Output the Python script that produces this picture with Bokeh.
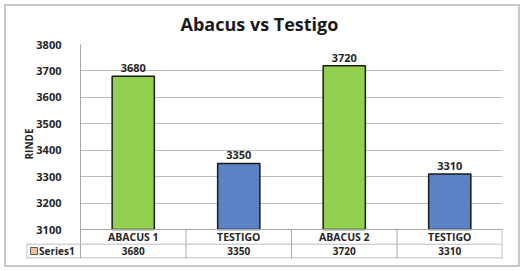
from bokeh.plotting import figure
from bokeh.layouts import column
from bokeh.models import ColumnDataSource, FixedTicker, Title
from bokeh.core.properties import value
from bokeh.embed import file_html
from bokeh.resources import INLINE

# ---- data ----
categories = ["ABACUS 1", "TESTIGO", "ABACUS 2", "TESTIGO"]
rinde = [3680, 3350, 3720, 3310]
bar_colors = ["#92d050", "#5b82c5", "#92d050", "#5b82c5"]
y_ticks = [3100, 3200, 3300, 3400, 3500, 3600, 3700, 3800]
series_name = "Series1"
title_text = "Abacus vs Testigo"
y_label = "RINDE"

W, H = 524, 271
FL, FR, FT = 80, 502, 44          # chart frame (pixels)
SPLIT = 243                       # top figure bottom edge
TB = 258                          # table bottom
Y_TOP, Y_BASE = 3800, 3100
PX_BASE = 229
upp = (Y_TOP - Y_BASE) / (PX_BASE - FT)   # data units per pixel

def py(px):
    return Y_BASE - (px - PX_BASE) * upp

FONT = "Open Sans"
TXT = "#262626"
GRID = "#bcbcbc"
TCOL = "#a6a6a6"
n = len(categories)
xs = [i + 0.5 for i in range(n)]
src = ColumnDataSource(dict(x=xs, top=rinde, color=bar_colors,
                            cat=categories, lab=[str(v) for v in rinde]))

# ---------------- top figure: bars + category row ----------------
p = figure(width=W, height=SPLIT, output_backend="svg", toolbar_location=None,
           x_range=(0, n), y_range=(py(SPLIT), Y_TOP),
           min_border_left=FL, min_border_right=W - FR,
           min_border_top=FT, min_border_bottom=0, frame_align=False)
p.outline_line_color = None
p.border_fill_alpha = 0
p.title = Title(text=title_text, align="left", offset=100, standoff=17,
                text_font=FONT, text_font_style="bold", text_font_size="18px",
                text_color="#1a1a1a")

p.xaxis.visible = False
p.xgrid.visible = False
p.ygrid.ticker = FixedTicker(ticks=y_ticks)
p.ygrid.grid_line_color = GRID
p.yaxis.ticker = FixedTicker(ticks=y_ticks)
p.yaxis.axis_line_color = TCOL
p.yaxis.major_tick_line_color = None
p.yaxis.minor_tick_line_color = None
p.yaxis.major_label_text_font = FONT
p.yaxis.major_label_text_font_style = "bold"
p.yaxis.major_label_text_font_size = "11px"
p.yaxis.major_label_text_color = TXT
p.yaxis.major_label_standoff = 13
p.yaxis.axis_label = y_label
p.yaxis.axis_label_text_font = FONT
p.yaxis.axis_label_text_font_style = "bold"
p.yaxis.axis_label_text_font_size = "10px"
p.yaxis.axis_label_text_color = TXT
p.yaxis.axis_label_standoff = -3

p.vbar(x="x", top="top", bottom=Y_BASE, width=0.40, fill_color="color",
       line_color="#1a1a1a", line_width=1.5, source=src)
p.text(x="x", y="top", text="lab", source=src, text_align="center",
       text_baseline="bottom", y_offset=-4, text_font=value(FONT),
       text_font_style="bold", text_font_size="11px", text_color=TXT)
p.text(x="x", y=py(236), text="cat", source=src, text_align="center",
       text_baseline="middle", text_font=value(FONT), text_font_style="bold",
       text_font_size="10.5px", text_color=TXT)
p.segment(x0=0, x1=n, y0=Y_BASE, y1=Y_BASE, line_color=TCOL, line_width=1)
p.segment(x0=[1, 2, 3, n - 0.003], x1=[1, 2, 3, n - 0.003],
          y0=py(SPLIT), y1=Y_BASE, line_color=TCOL, line_width=1)

# ---------------- bottom figure: value row of the data table ----------------
LEFT_CELL = 26
unit_px = (FR - FL) / n
x0 = -(FL - LEFT_CELL) / unit_px
q = figure(width=W, height=H - SPLIT, output_backend="svg", toolbar_location=None,
           x_range=(x0, n), y_range=(0, TB - SPLIT),
           x_axis_location=None, y_axis_location=None,
           min_border_left=LEFT_CELL, min_border_right=W - FR,
           min_border_top=0, min_border_bottom=H - TB, frame_align=False)
q.outline_line_color = None
q.border_fill_alpha = 0
q.xgrid.visible = False
q.ygrid.visible = False
hy_top = TB - SPLIT - 0.5
hy_bot = 0.5
q.segment(x0=x0, x1=n, y0=[hy_top, hy_bot], y1=[hy_top, hy_bot],
          line_color=TCOL, line_width=1)
q.segment(x0=[x0 + 0.003, 0, 1, 2, 3, n - 0.003],
          x1=[x0 + 0.003, 0, 1, 2, 3, n - 0.003],
          y0=0, y1=TB - SPLIT, line_color=TCOL, line_width=1)
mid = (hy_top + hy_bot) / 2
q.text(x="x", y=mid, text="lab", source=src, text_align="center",
       text_baseline="middle", text_font=value(FONT), text_font_style="bold",
       text_font_size="10px", text_color=TXT)
q.rect(x=x0 + 7.5 / unit_px, y=mid, width=7 / unit_px, height=7,
       fill_color="#f4c09a", line_color="#595959", line_width=1)
q.text(x=x0 + 12.5 / unit_px, y=mid, text=[series_name], text_align="left",
       text_baseline="middle", text_font=value(FONT), text_font_style="bold",
       text_font_size="10px", text_color=TXT)

layout = column(p, q, spacing=0,
                styles={"outline": "2px solid #c8c8c8", "outline-offset": "-6px"})

open("out.html", "w").write(file_html(layout, INLINE))
